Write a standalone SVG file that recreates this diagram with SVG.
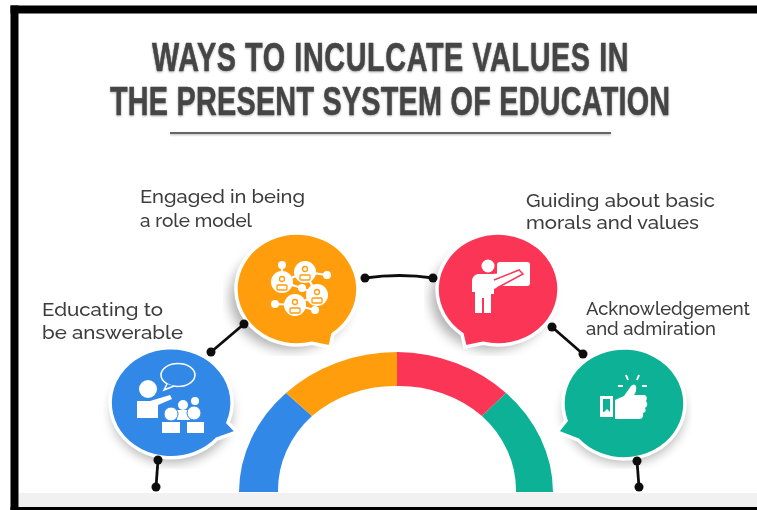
<svg xmlns="http://www.w3.org/2000/svg" width="757" height="510" viewBox="0 0 757 510">
<style>
.title{font-family:"Liberation Sans",Arial,sans-serif;font-weight:700;font-size:40px;fill:#444;stroke:#444;stroke-width:.5}
.lab{font-family:"Raleway","Open Sans","Liberation Sans",sans-serif;font-size:18px;font-weight:500;fill:#3c3c3c}
.bub{stroke:#fff;stroke-width:3.5;stroke-linejoin:miter}
.w{fill:#fff}
.ol{fill:none;stroke:#fff}
.c{fill:none;stroke:#111;stroke-width:2.800}
.d{fill:#111}
</style>
<defs>
<filter id="sh" x="-30%" y="-30%" width="160%" height="160%"><feGaussianBlur stdDeviation="6"/></filter>
<filter id="soft" x="-5%" y="-5%" width="110%" height="110%"><feGaussianBlur stdDeviation="0.45"/></filter>
<filter id="ts" x="-5%" y="-20%" width="110%" height="140%"><feGaussianBlur stdDeviation="0.5" result="b"/><feGaussianBlur in="SourceAlpha" stdDeviation="1.200"/><feOffset dy="1"/><feComponentTransfer><feFuncA type="linear" slope="0.3"/></feComponentTransfer><feMerge><feMergeNode/><feMergeNode in="b"/></feMerge></filter>
</defs>
<rect width="757" height="510" fill="#fff"/>
<g id="frame">
<rect x="18.500" y="493" width="738.500" height="14" fill="#f1f1f1"/>
<rect x="10.500" y="5.500" width="746.500" height="8" fill="#000"/>
<rect x="10.500" y="5.500" width="8" height="504.500" fill="#000"/>
<rect x="10.500" y="507" width="746.500" height="3" fill="#000"/>
</g>
<g id="title" filter="url(#ts)">
<text class="title" transform="translate(152 71) scale(.72 1)" textLength="662" lengthAdjust="spacing">WAYS TO INCULCATE VALUES IN</text>
<text class="title" transform="translate(110 115) scale(.72 1)" textLength="778" lengthAdjust="spacing">THE PRESENT SYSTEM OF EDUCATION</text>
<rect x="170" y="132" width="441" height="2" fill="#666"/>
</g>
<g id="arc" filter="url(#soft)">
<path fill="#3388e6" d="M239 492A157 140 0 0 1 286 393L312 416A119 106 0 0 0 278 492Z"/>
<path fill="#ff9d0a" d="M286 393A157 140 0 0 1 397 352L397 386A119 106 0 0 0 312 416Z"/>
<path fill="#fb3557" d="M397 352A157 140 0 0 1 506 393L482 416A119 106 0 0 0 397 386Z"/>
<path fill="#0db195" d="M506 393A157 140 0 0 1 553 492L516 492A119 106 0 0 0 482 416Z"/>
</g>
<g id="node-blue" filter="url(#soft)">
<ellipse cx="172" cy="412" rx="60" ry="51" fill="#000" opacity=".3" filter="url(#sh)"/>
<path class="bub" fill="#3388e6" d="M237 432L217 439A61 55 0 1 1 228 422.600Z"/>
<ellipse class="ol" stroke-width="1.500" cx="178" cy="375" rx="17" ry="11.500"/>
<path fill="#3388e6" stroke="#fff" stroke-width="1.500" d="M167 384L164 390L174 386"/>
<circle class="w" cx="148" cy="389" r="9"/>
<path class="w" d="M137 401H150L170 395L172 399L158 405V418H137Z"/>
<circle class="w" cx="183" cy="405" r="5"/><circle class="w" cx="195" cy="401" r="4"/>
<path class="w" d="M177 410H190V420H177Z"/>
<circle class="w" cx="171" cy="414" r="7" stroke="#3388e6"/><circle class="w" cx="194" cy="413" r="7" stroke="#3388e6"/>
<path class="w" d="M162 422H180V433H162Z"/><path class="w" d="M187 422H204V433H187Z"/>
</g>
<g id="node-orange" filter="url(#soft)">
<ellipse cx="290" cy="298" rx="60" ry="52" fill="#000" opacity=".3" filter="url(#sh)"/>
<path class="bub" fill="#ff9d0a" d="M330 347L312 343.300A61 56 0 1 1 333 334.200Z"/>
<g class="ol" stroke-width="2.200"><path d="M282 265L282 282M327 275L305 272L282 282L302 288L317 295L305 272M275 304L295 305L315 310M317 295L295 305"/></g>
<circle class="w" cx="282" cy="265" r="4"/><circle class="w" cx="327" cy="275" r="4"/><circle class="w" cx="302" cy="288" r="4"/><circle class="w" cx="275" cy="304" r="4"/><circle class="w" cx="315" cy="310" r="4"/>
<circle class="w" cx="282" cy="282" r="11"/><circle class="w" cx="305" cy="272" r="11"/><circle class="w" cx="317" cy="295" r="11"/><circle class="w" cx="295" cy="305" r="11"/>
<g fill="none" stroke="#ff9d0a" stroke-width="1.300"><circle cx="282" cy="279" r="2.500"/><rect x="277" y="285" width="10" height="5" rx="1"/><circle cx="305" cy="269" r="2.500"/><rect x="300" y="275" width="10" height="5" rx="1"/><circle cx="317" cy="292" r="2.500"/><rect x="312" y="298" width="10" height="5" rx="1"/><circle cx="295" cy="302" r="2.500"/><rect x="290" y="308" width="10" height="5" rx="1"/></g>
</g>
<g id="node-red" filter="url(#soft)">
<ellipse cx="491" cy="298" rx="60" ry="52" fill="#000" opacity=".3" filter="url(#sh)"/>
<path class="bub" fill="#fb3557" d="M465 347L483 343.300A61 56 0 1 0 462 334.200Z"/>
<circle class="w" cx="488" cy="266" r="6.500"/>
<rect class="w" x="497" y="262" width="33" height="24" rx="3"/>
<path class="w" d="M478 274H492L518 272L521 276L494 289V294H491V313H484V298H482V313H475V292H472V280Q473 275 478 274Z"/>
<path fill="none" stroke="#fb3557" stroke-width="1.500" d="M494 280L519 270L523 274L497 288"/>
</g>
<g id="node-green" filter="url(#soft)">
<ellipse cx="624" cy="412" rx="60" ry="51" fill="#000" opacity=".3" filter="url(#sh)"/>
<path class="bub" fill="#0db195" d="M557 432L578 439.900A61 55.500 0 1 0 566 420.700Z"/>
<path class="w" d="M600 396H613V417H600Z"/>
<path fill="#0db195" d="M603 399H610V412L607 409L604 412H603Z"/>
<path class="w" d="M615 400L624 396L631 386Q634 383 636 386Q637 391 634 395H645Q648 397 646 401Q649 405 645 408Q647 412 643 413Q644 418 640 419H615Z"/>
<g fill="none" stroke="#fff" stroke-width="2"><path d="M626 375L628 380M639 375L637 380M618 386H623M642 386H647"/></g>
</g>
<g id="connectors" filter="url(#soft)">
<path class="c" d="M244 324L211 352"/><circle class="d" cx="244" cy="324" r="4.500"/><circle class="d" cx="211" cy="352" r="4.500"/>
<path class="c" d="M365 278Q400 273 433 278"/><circle class="d" cx="365" cy="278" r="4.500"/><circle class="d" cx="433" cy="278" r="4.500"/>
<path class="c" d="M552 327L583 354"/><circle class="d" cx="552" cy="327" r="4.500"/><circle class="d" cx="583" cy="354" r="4.500"/>
<path class="c" d="M158 460L156 487"/><circle class="d" cx="158" cy="460" r="4.500"/><circle class="d" cx="156" cy="487" r="4.500"/>
<path class="c" d="M637 461L639 487"/><circle class="d" cx="637" cy="461" r="4.500"/><circle class="d" cx="639" cy="487" r="4.500"/>
</g>
<g id="labels" filter="url(#soft)">
<text class="lab" x="140" y="203" textLength="165" lengthAdjust="spacingAndGlyphs">Engaged in being</text>
<text class="lab" x="140" y="227" textLength="112" lengthAdjust="spacingAndGlyphs">a role model</text>
<text class="lab" x="526" y="207" textLength="189" lengthAdjust="spacingAndGlyphs">Guiding about basic</text>
<text class="lab" x="526" y="229" textLength="173" lengthAdjust="spacingAndGlyphs">morals and values</text>
<text class="lab" x="586" y="315" textLength="164" lengthAdjust="spacingAndGlyphs">Acknowledgement</text>
<text class="lab" x="586" y="335" textLength="130" lengthAdjust="spacingAndGlyphs">and admiration</text>
<text class="lab" x="42" y="316" textLength="121" lengthAdjust="spacingAndGlyphs">Educating to</text>
<text class="lab" x="42" y="339" textLength="141" lengthAdjust="spacingAndGlyphs">be answerable</text>
</g>
</svg>
